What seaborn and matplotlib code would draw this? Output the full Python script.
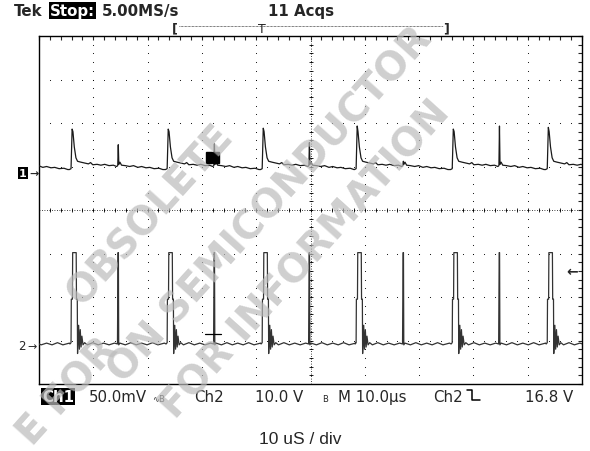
import numpy as np
import pandas as pd
import matplotlib
matplotlib.use('Agg')
import matplotlib.pyplot as plt
import seaborn as sns
from matplotlib.patches import Rectangle

# time in us (10 us/div, 10 div), voltage in divisions (8 div, centre = 0)
ch1_starts = [-11.6, 5.9, 23.6, 41.1, 58.4, 76.1, 93.6]
ch1_peaks = [1.86, 1.86, 1.86, 1.88, 1.93, 1.86, 1.90]
ch1_small = [1.10, 1.50, 1.52, 1.55, 1.12, 1.93, 1.10]
# one period of ch1 (dt from big spike, level)
ch1_dt = [-0.3, 0.0, 0.2, 0.35, 0.6, 0.9, 1.2, 1.8, 2.5, 3.2, 3.6, 4.0, 4.8, 5.5, 6.2, 7.0, 7.8, 8.4,
          8.6, 8.7, 8.8, 9.0, 9.3, 10.0, 10.8, 11.5, 12.3, 13.0, 13.8, 14.5, 15.3, 16.2, 16.9]
ch1_lv = [0.93, 0.95, None, 1.80, 1.45, 1.20, 1.12, 1.10, 1.08, 1.06, 1.09, 1.04, 1.05, 1.03, 1.05, 1.02, 1.03, 1.00,
          1.02, None, 1.05, 1.10, 1.03, 1.02, 1.00, 1.02, 0.98, 1.00, 0.97, 0.98, 0.95, 0.96, 0.93]

ch2_starts = [-11.6, 5.9, 23.6, 41.1, 58.4, 76.1, 93.6]
ch2_dt = [-0.2, 0.0, 0.05, 0.25, 0.3, 0.95, 1.0, 1.15, 1.2, 1.4, 1.55, 1.7, 1.85, 2.0, 2.2, 2.5, 3.0, 4.0, 5.0,
          6.0, 7.0, 8.0, 8.55, 8.6, 8.65, 8.72, 8.78, 9.0, 10.0, 11.0, 12.0, 13.0, 14.0, 15.0, 16.0, 17.2]
ch2_lv = [-3.08, -3.05, -2.05, -2.05, -0.98, -0.98, -2.05, -2.05, -3.30, -2.65, -3.20, -2.75, -3.15, -2.90, -3.10,
          -3.05, -3.10, -3.05, -3.10, -3.06, -3.10, -3.06, -3.08, -2.05, -0.98, -0.98, -3.10, -3.06, -3.10, -3.05,
          -3.10, -3.06, -3.10, -3.05, -3.10, -3.06]

rows = []
for i, t0 in enumerate(ch1_starts):
    for dt, lv in zip(ch1_dt, ch1_lv):
        if lv is None:
            lv = ch1_peaks[i] if dt < 1 else ch1_small[i]
        rows.append(('Ch1', t0 + dt, lv))
for t0 in ch2_starts:
    for dt, lv in zip(ch2_dt, ch2_lv):
        rows.append(('Ch2', t0 + dt, lv))
df = pd.DataFrame(rows, columns=['ch', 't', 'v'])

sns.set_style('white')
plt.rcParams['font.family'] = ['DejaVu Sans']

W, H = 590, 452
fig = plt.figure(figsize=(W / 100, H / 100), dpi=100)
ax = fig.add_axes([39 / W, 67 / H, 543 / W, 348 / H])

def px(x, y):
    return x / W, 1 - y / H

# graticule dots
gx = np.arange(0, 100.01, 2)
gy = np.arange(-4, 4.01, 0.2)
for v in range(-3, 4):
    ax.scatter(gx, np.full(len(gx), v), s=0.6, color='black', lw=0, zorder=1)
for t in range(10, 100, 10):
    ax.scatter(np.full(len(gy), t), gy, s=0.6, color='black', lw=0, zorder=1)
# centre lines with fine ticks
ax.axhline(0, color='black', lw=0.6, ls=(0, (1, 2)), zorder=1)
ax.axvline(50, color='black', lw=0.6, ls=(0, (1, 2)), zorder=1)
ax.scatter(gx, np.zeros(len(gx)), marker='|', s=12, lw=0.6, color='black', zorder=1)
ax.scatter(np.full(len(gy), 50), gy, marker='_', s=12, lw=0.6, color='black', zorder=1)

sns.lineplot(data=df[df.ch == 'Ch1'], x='t', y='v', color='#1a1a1a', lw=0.9, sort=False,
             estimator=None, ax=ax, zorder=3)
sns.lineplot(data=df[df.ch == 'Ch2'], x='t', y='v', color='#333333', lw=0.9, sort=False,
             estimator=None, ax=ax, zorder=3)

# cursor markers
ax.add_patch(Rectangle((30.8, 1.08), 1.05, 0.25, color='black', zorder=4))
ax.add_patch(Rectangle((32.05, 1.08), 1.05, 0.25, color='black', zorder=4))
ax.plot([30.6, 33.5], [-2.86, -2.86], color='black', lw=0.9, zorder=4)

ax.set_xlim(0, 100)
ax.set_ylim(-4, 4)
ax.set_xlabel('')
ax.set_ylabel('')
ax.set_xticks(np.arange(0, 101, 10))
ax.set_yticks(np.arange(-4, 5, 1))
ax.set_xticks(np.arange(0, 100.01, 2), minor=True)
ax.set_yticks(np.arange(-4, 4.01, 0.2), minor=True)
ax.tick_params(which='both', direction='in', length=3, width=0.8, top=True, right=True,
               labelbottom=False, labelleft=False)
for s in ax.spines.values():
    s.set_color('black')
    s.set_linewidth(1.0)

# header
fs = 10.8
fig.text(*px(14, 16), 'Tek', fontsize=fs, fontweight='bold')
fig.text(*px(50, 16), 'Stop:', fontsize=fs, fontweight='bold', color='white',
         bbox=dict(facecolor='black', edgecolor='none', pad=0.5))
fig.text(*px(102, 16), '5.00MS/s', fontsize=fs, fontweight='semibold')
fig.text(*px(268, 16), '11 Acqs', fontsize=fs, fontweight='semibold')
fig.text(*px(172, 32), '[', fontsize=9, fontweight='bold')
fig.text(*px(443, 32), ']', fontsize=9, fontweight='bold')
fig.lines.append(plt.Line2D([179 / W, 443 / W], [1 - 27 / H] * 2, transform=fig.transFigure,
                            color='black', lw=0.5, ls=(0, (1, 1))))
fig.text(*px(258, 33), 'T', fontsize=9)

# channel markers
fig.text(*px(19, 177), '1', fontsize=8, fontweight='bold', color='white',
         bbox=dict(facecolor='black', edgecolor='none', pad=0.8))
fig.text(*px(29, 177), '\u2192', fontsize=8, fontweight='bold')
fig.text(*px(18, 350), '2', fontsize=8.5)
fig.text(*px(27, 350), '\u2192', fontsize=8)
fig.text(*px(566, 276), '\u2190', fontsize=10, fontweight='bold')

# footer
fy = 402
fig.text(*px(42, fy), 'Ch1', fontsize=fs, fontweight='bold', color='white',
         bbox=dict(facecolor='black', edgecolor='none', pad=0.5))
fig.text(*px(89, fy), '50.0mV', fontsize=fs)
fig.text(*px(152, fy), '\u223fB', fontsize=6)
fig.text(*px(194, fy), 'Ch2', fontsize=fs)
fig.text(*px(255, fy), '10.0 V', fontsize=fs)
fig.text(*px(322, fy), 'B', fontsize=6)
fig.text(*px(338, fy), 'M 10.0\u00b5s', fontsize=fs)
fig.text(*px(433, fy), 'Ch2', fontsize=fs)
# falling-edge trigger symbol
fig.lines.append(plt.Line2D(np.array([467, 472, 472, 480]) / W, 1 - np.array([391, 391, 401, 401]) / H,
                            transform=fig.transFigure, color='black', lw=1.1))
fig.text(*px(525, fy), '16.8 V', fontsize=fs)

fig.text(*px(300, 444), '10 uS / div', fontsize=12.5, ha='center',
         family=['Liberation Sans Narrow', 'Liberation Sans', 'DejaVu Sans'])

# watermark
wm = dict(fontsize=28, fontweight='bold', color='#bbbbbb', alpha=0.7, rotation=48,
          ha='center', va='center', rotation_mode='anchor', zorder=10)
fig.text(*px(150, 215), 'OBSOLETE', **wm)
fig.text(*px(270, 205), 'ON SEMICONDUCTOR', **wm)
fig.text(*px(305, 260), 'FOR INFORMATION', **wm)
fig.text(*px(68, 392), 'E FOR', **wm)

fig.savefig('out.png', dpi=100)
